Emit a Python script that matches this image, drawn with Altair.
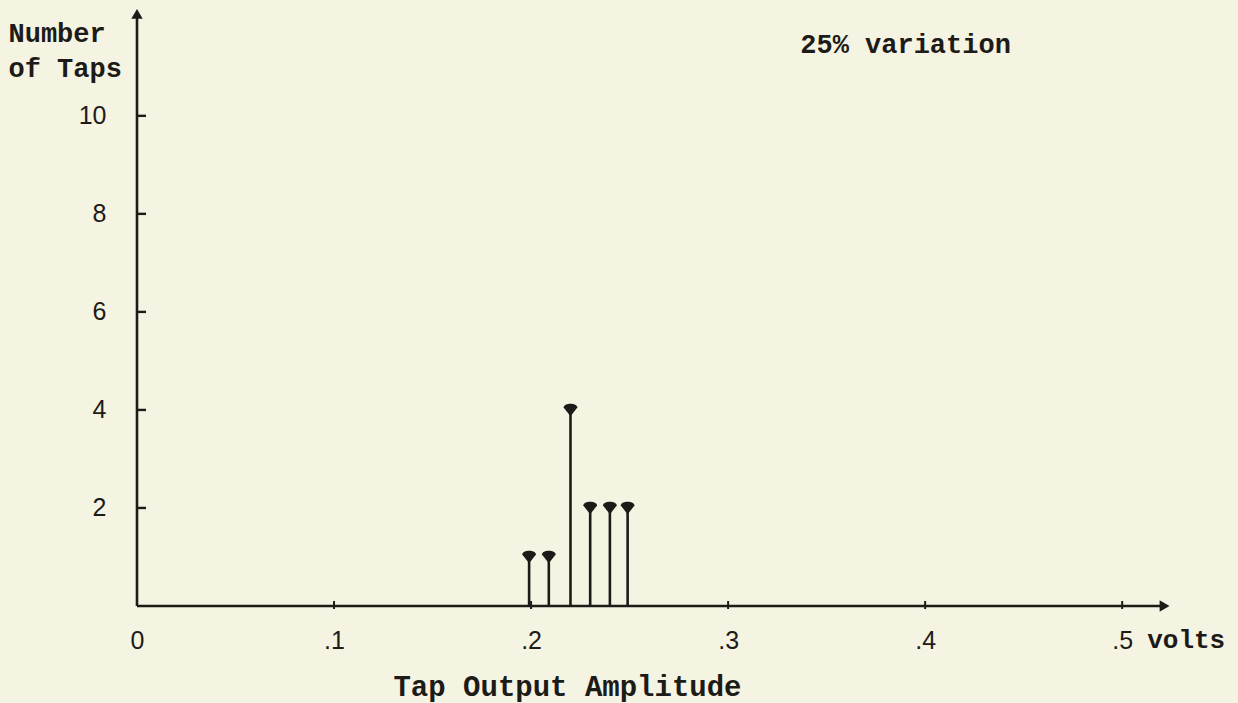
import altair as alt
import pandas as pd

# Tap output amplitude (volts) and number of taps at each amplitude
amplitudes = [0.199, 0.209, 0.220, 0.230, 0.240, 0.249]
tap_counts = [1, 1, 4, 2, 2, 2]

x_ticks = [0, 0.1, 0.2, 0.3, 0.4, 0.5]
y_ticks = [2, 4, 6, 8, 10]

X_MAX = 0.54
Y_MAX = 12.2
W, H = 1064, 598

INK = "#1d1b18"
PAPER = "#f5f3e2"
MONO = "Liberation Mono"
SANS = "Liberation Sans"

stems = pd.DataFrame({"amp": amplitudes, "taps": tap_counts})
xt = pd.DataFrame({"v": x_ticks})
yt = pd.DataFrame({"v": y_ticks})

xs = alt.Scale(domain=[0, X_MAX], nice=False, zero=False)
ys = alt.Scale(domain=[0, Y_MAX], nice=False, zero=False)

x_axis = alt.Axis(
    values=x_ticks,
    labelExpr="datum.value == 0 ? '0' : '.' + round(datum.value * 10)",
    domain=False, ticks=False, tickSize=0, grid=False,
    labelFont=SANS, labelFontSize=25, labelColor=INK,
    labelPadding=34, labelBaseline="middle", labelFlush=False,
    title="Tap Output Amplitude", titleFont=MONO, titleFontSize=29,
    titleFontWeight="bold", titleColor=INK,
    titleX=430, titleY=80, titleBaseline="middle", titleAnchor="middle",
)
y_axis = alt.Axis(
    values=y_ticks,
    domain=False, ticks=False, tickSize=0, grid=False,
    labelFont=SANS, labelFontSize=25, labelColor=INK,
    labelPadding=31, labelBaseline="middle",
    title=["Number", "of Taps"], titleFont=MONO, titleFontSize=27,
    titleFontWeight="bold", titleColor=INK, titleAngle=0,
    titleAlign="left", titleBaseline="middle", titleLineHeight=35,
    titleX=-129, titleY=25,
)


def X(field):
    return alt.X(field, scale=xs, axis=x_axis, title="Tap Output Amplitude")


def Y(field):
    return alt.Y(field, scale=ys, axis=y_axis, title=["Number", "of Taps"])


def XD(v):
    return alt.datum(v, scale=xs, axis=x_axis, title="Tap Output Amplitude")


def YD(v):
    return alt.datum(v, scale=ys, axis=y_axis, title=["Number", "of Taps"])


one = pd.DataFrame({"a": [0]})

# Vertical stems, one per amplitude
stem_rules = alt.Chart(stems).mark_rule(color=INK, strokeWidth=2.6).encode(
    x=X("amp:Q"), y=Y("taps:Q"), y2=alt.datum(0),
)

# Pin heads on top of each stem
head_shape = "M -1 -0.35 C -1 -1.1, 1 -1.1, 1 -0.35 L 0 0.9 Z"
heads = alt.Chart(stems).mark_point(
    shape=head_shape, filled=True, color=INK, size=190, opacity=1
).encode(x=X("amp:Q"), y=Y("taps:Q"))

# Axis lines with arrowheads
x_line = alt.Chart(one).mark_rule(color=INK, strokeWidth=2.6).encode(
    x=XD(0), x2=alt.datum(0.52), y=YD(0),
)
y_line = alt.Chart(one).mark_rule(color=INK, strokeWidth=2.6).encode(
    x=XD(0), y=YD(0), y2=alt.datum(12.0),
)

x_arrow = alt.Chart(one).mark_point(
    shape="triangle-right", filled=True, color=INK, size=130, opacity=1
).encode(x=XD(0.5215), y=YD(0))
y_arrow = alt.Chart(one).mark_point(
    shape="triangle-up", filled=True, color=INK, size=130, opacity=1
).encode(x=XD(0), y=YD(12.08))

# Small tick marks on both axes
x_tick_marks = alt.Chart(xt[xt.v > 0]).mark_rule(color=INK, strokeWidth=2).encode(
    x=X("v:Q"), y=alt.value(H - 5), y2=alt.value(H + 3),
)
y_tick_marks = alt.Chart(yt).mark_rule(color=INK, strokeWidth=2.4).encode(
    y=Y("v:Q"), x=alt.value(0), x2=alt.value(9),
)

# Unit after the last tick label
volts = alt.Chart(pd.DataFrame({"t": ["volts"]})).mark_text(
    font=MONO, fontSize=26, fontWeight="bold", color=INK,
    align="left", baseline="middle", dx=25, dy=34,
).encode(x=XD(0.5), y=YD(0), text="t:N")

note = alt.Chart(pd.DataFrame({"t": ["25% variation"]})).mark_text(
    font=MONO, fontSize=27, fontWeight="bold", color=INK,
    align="left", baseline="middle",
).encode(x=XD(0.3366), y=YD(11.45), text="t:N")

chart = alt.layer(
    stem_rules, heads, x_line, y_line, x_arrow, y_arrow,
    x_tick_marks, y_tick_marks, volts, note,
).properties(
    width=W, height=H,
    autosize=alt.AutoSizeParams(type="none"),
    padding={"left": 137, "top": 8, "right": 37, "bottom": 97},
    background=PAPER,
).configure_view(stroke=None, fill=PAPER)

chart.save("out.html", embed_options={"renderer": "svg", "actions": False})
